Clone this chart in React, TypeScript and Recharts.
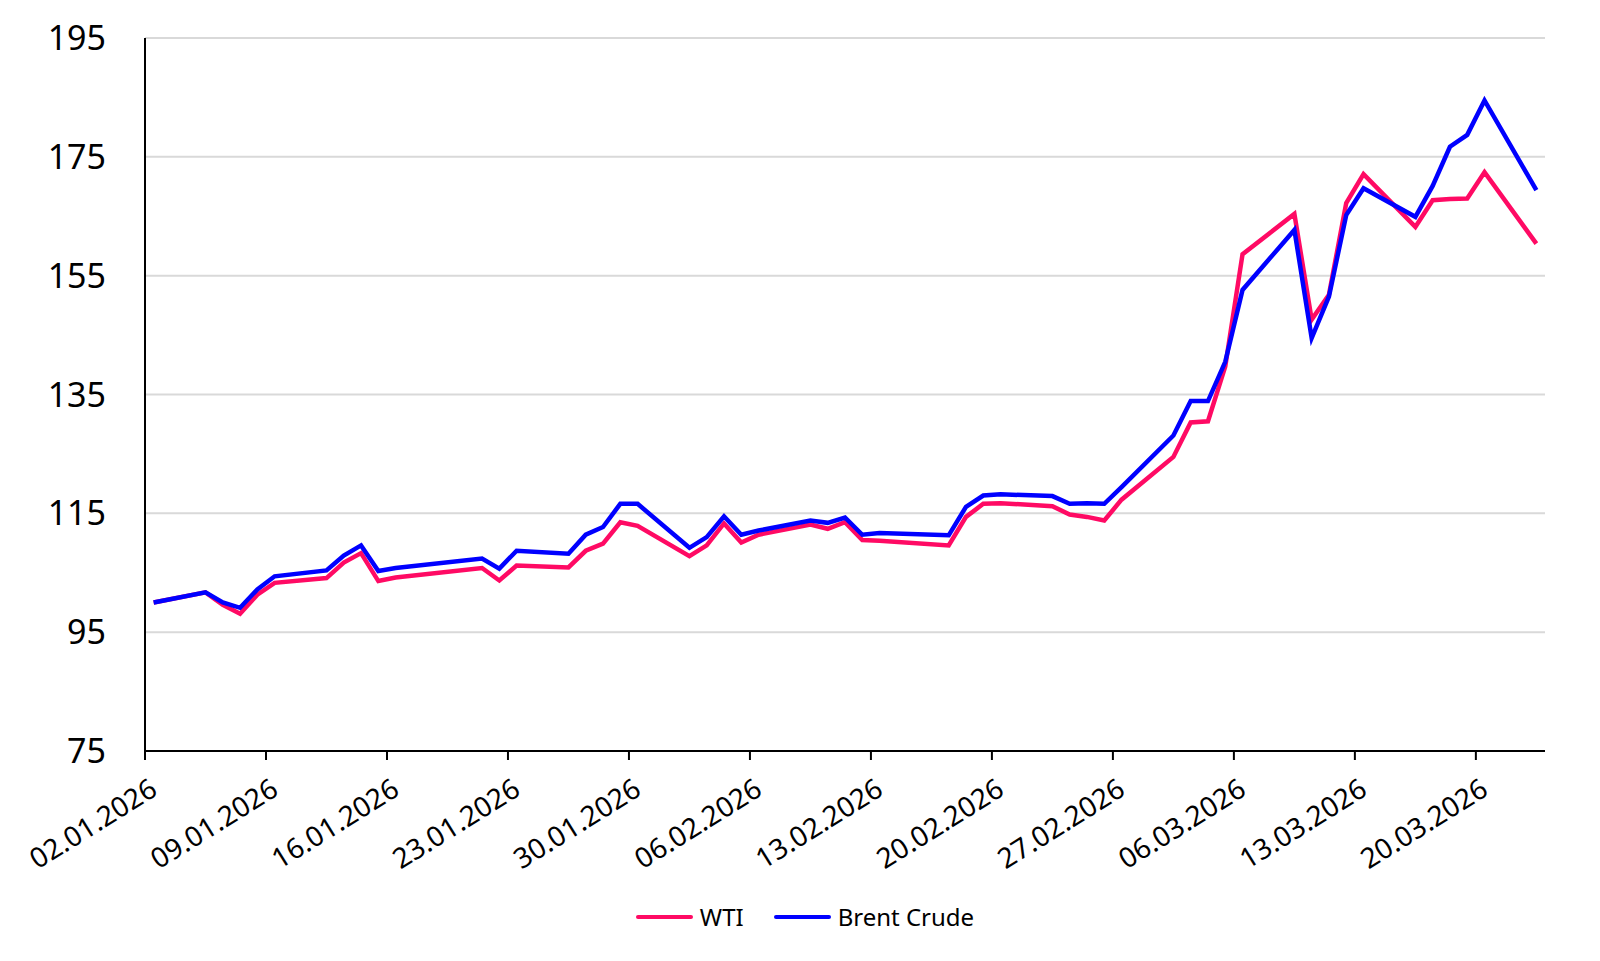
import { LineChart, Line, XAxis, YAxis, CartesianGrid, Legend } from 'recharts';

// trading days (dd.mm, 2026)
const dates = [
  '02.01', '05.01', '06.01', '07.01', '08.01', '09.01', '12.01', '13.01', '14.01', '15.01',
  '16.01', '21.01', '22.01', '23.01', '26.01', '27.01', '28.01', '29.01', '30.01', '02.02',
  '03.02', '04.02', '05.02', '06.02', '09.02', '10.02', '11.02', '12.02', '13.02', '17.02',
  '18.02', '19.02', '20.02', '23.02', '24.02', '25.02', '26.02', '27.02', '02.03', '03.03',
  '04.03', '05.03', '06.03', '09.03', '10.03', '11.03', '12.03', '13.03', '16.03', '17.03',
  '18.03', '19.03', '20.03', '23.03',
];

const wti = [
  100, 101.7, 99.6, 98.1, 101.3, 103.3, 104.1, 106.7, 108.3, 103.6,
  104.2, 105.8, 103.7, 106.2, 105.9, 108.7, 109.9, 113.5, 112.9, 107.8,
  109.6, 113.3, 110.1, 111.4, 113.1, 112.4, 113.5, 110.5, 110.4, 109.6,
  114.4, 116.6, 116.7, 116.2, 114.8, 114.4, 113.8, 117.3, 124.5, 130.3,
  130.5, 139.7, 158.6, 165.4, 147.6, 151.8, 167.2, 172.1, 163.2, 167.7,
  167.9, 168.0, 172.4, 160.4,
];

const brent = [
  100, 101.7, 100.0, 99.1, 102.2, 104.4, 105.4, 107.9, 109.6, 105.3,
  105.8, 107.4, 105.7, 108.7, 108.2, 111.4, 112.7, 116.6, 116.6, 109.2,
  111.0, 114.5, 111.4, 112.1, 113.8, 113.4, 114.3, 111.4, 111.7, 111.3,
  116.1, 118.0, 118.2, 117.9, 116.6, 116.7, 116.6, 119.4, 128.1, 133.9,
  133.9, 140.5, 152.6, 162.7, 144.5, 151.5, 165.2, 169.7, 164.9, 170.1,
  176.7, 178.7, 184.5, 169.4,
];

const yTicks = [75, 95, 115, 135, 155, 175, 195];
const tickLabels = [
  '02.01.2026', '09.01.2026', '16.01.2026', '23.01.2026', '30.01.2026', '06.02.2026',
  '13.02.2026', '20.02.2026', '27.02.2026', '06.03.2026', '13.03.2026', '20.03.2026',
];

const FONT = '"Noto Sans", sans-serif';
const WTI_COLOR = '#ff0a64';
const BRENT_COLOR = '#0000ff';

const dayOf = (s: string) => {
  const [d, m] = s.split('.').map(Number);
  return (Date.UTC(2026, m - 1, d) - Date.UTC(2026, 0, 2)) / 86400000;
};

// points sit in the middle of their day, ticks at the start
const data = dates.map((d, i) => ({ x: dayOf(d) + 0.5, wti: wti[i], brent: brent[i] }));
const xTicks = tickLabels.map((l) => dayOf(l.slice(0, 5)));

function XTick({ x, y, payload }: any) {
  const label = tickLabels[xTicks.indexOf(payload.value)];
  return (
    <text
      textAnchor="end"
      transform={`translate(${x + 14},${y + 34}) rotate(-32)`}
      fontFamily={FONT}
      fontSize={28}
      fill="#000"
    >
      {label}
    </text>
  );
}

function LegendBox() {
  const items = [
    { name: 'WTI', color: WTI_COLOR },
    { name: 'Brent Crude', color: BRENT_COLOR },
  ];
  return (
    <div style={{ display: 'flex', justifyContent: 'center', alignItems: 'flex-start', paddingTop: 19, paddingLeft: 10, height: 80, boxSizing: 'border-box' }}>
      {items.map((it, i) => (
        <div key={it.name} style={{ display: 'flex', alignItems: 'center', marginLeft: i ? 30 : 0, height: 34 }}>
          <div style={{ width: 57, height: 4, background: it.color, borderRadius: 2, marginRight: 7 }} />
          <span style={{ fontFamily: FONT, fontSize: 24, color: '#000', lineHeight: '34px' }}>{it.name}</span>
        </div>
      ))}
    </div>
  );
}

export default function App() {
  return (
    <div style={{ position: 'absolute', left: 0, top: 0, width: 1600, height: 961, background: '#fff' }}>
      <LineChart width={1600} height={961} data={data} margin={{ top: 38, right: 55, bottom: 0, left: 0 }}>
        <CartesianGrid horizontal vertical={false} stroke="#d9d9d9" strokeWidth={2} />
        <XAxis
          dataKey="x"
          type="number"
          domain={[0, 81]}
          ticks={xTicks}
          interval={0}
          height={130}
          axisLine={{ stroke: '#000', strokeWidth: 2 }}
          tickLine={{ stroke: '#000', strokeWidth: 2 }}
          tickSize={9}
          tickMargin={0}
          tick={<XTick />}
        />
        <YAxis
          type="number"
          domain={[75, 195]}
          ticks={yTicks}
          interval={0}
          width={145}
          axisLine={{ stroke: '#000', strokeWidth: 2 }}
          tickLine={false}
          tickSize={0}
          tickMargin={39}
          tick={{ fontFamily: FONT, fontSize: 34, fill: '#000' }}
        />
        <Legend verticalAlign="bottom" height={80} wrapperStyle={{ left: 0, width: 1600 }} content={<LegendBox />} />
        <Line type="linear" dataKey="wti" name="WTI" stroke={WTI_COLOR} strokeWidth={4.5} dot={false} isAnimationActive={false} />
        <Line type="linear" dataKey="brent" name="Brent Crude" stroke={BRENT_COLOR} strokeWidth={4.5} dot={false} isAnimationActive={false} />
      </LineChart>
    </div>
  );
}
